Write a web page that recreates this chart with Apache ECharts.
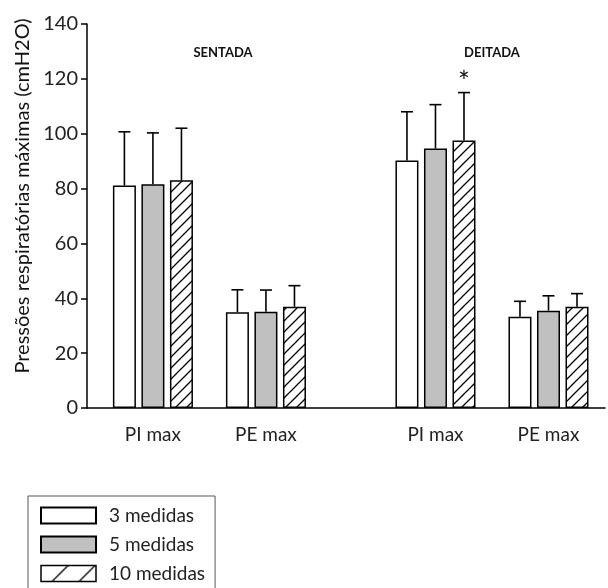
<!DOCTYPE html>
<html>
<head>
<meta charset="utf-8">
<script src="https://cdn.jsdelivr.net/npm/echarts@6/dist/echarts.min.js"></script>
<style>
  html, body { margin: 0; padding: 0; background: #fff; }
  #chart { width: 608px; height: 588px; }
</style>
</head>
<body>
<div id="chart"></div>
<script>
// data
var groupLabels = ['PI max', 'PE max', 'PI max', 'PE max'];
var seriesNames = ['3 medidas', '5 medidas', '10 medidas'];
var mean3 = [81.1, 34.9, 90.2, 33.3];
var sd3 = [19.6, 8.2, 17.8, 5.6];
var mean5 = [81.6, 35.1, 94.6, 35.5];
var sd5 = [18.7, 7.9, 16.0, 5.4];
var mean10 = [83.0, 36.9, 97.5, 36.9];
var sd10 = [19.0, 7.7, 17.5, 4.8];
var sig10 = [0, 0, 1, 0];   // * marca
var yTicks = [0, 20, 40, 60, 80, 100, 120, 140];

// layout: fine category axis so that the gap between postures is 1.5x the group spacing
var slotCount = 56;
var groupSlots = [7, 19, 37, 49];
var barW = 23, barGapPct = 0.24;
var fontFam = 'Lato, "DejaVu Sans", sans-serif';

var cats = [];
var labelMap = {};
for (var i = 0; i < slotCount; i++) cats.push('c' + i);
groupSlots.forEach(function (s, i) { labelMap['c' + s] = groupLabels[i]; });

function spread(vals) {
    var arr = [];
    for (var i = 0; i < slotCount; i++) arr.push(null);
    groupSlots.forEach(function (s, i) { arr[s] = vals[i]; });
    return arr;
}

function hatch(step) {
    var c = document.createElement('canvas');
    c.width = c.height = step;
    var g = c.getContext('2d');
    g.fillStyle = '#fff';
    g.fillRect(0, 0, step, step);
    g.strokeStyle = '#000';
    g.lineWidth = 1.3;
    g.beginPath();
    g.moveTo(-1, step + 1); g.lineTo(step + 1, -1);
    g.moveTo(-1, 1); g.lineTo(1, -1);
    g.moveTo(step - 1, step + 1); g.lineTo(step + 1, step - 1);
    g.stroke();
    return { image: c, repeat: 'repeat' };
}

var fills = ['#ffffff', '#c0c0c0', hatch(11)];
var means = [mean3, mean5, mean10];
var sds = [sd3, sd5, sd10];
var sigs = [[0, 0, 0, 0], [0, 0, 0, 0], sig10];

function errorSeries(k) {
    var offset = (k - 1) * barW * (1 + barGapPct);
    return {
        type: 'custom',
        name: 'err' + k,
        z: 3,
        data: groupSlots.map(function (s, i) { return [s, means[k][i], sds[k][i], sigs[k][i]]; }),
        renderItem: function (params, api) {
            var x = api.coord([api.value(0), 0])[0] + offset;
            var yBase = api.coord([api.value(0), api.value(1)])[1];
            var yTop = api.coord([api.value(0), api.value(1) + api.value(2)])[1];
            var st = { stroke: '#000', lineWidth: 1.6 };
            var kids = [
                { type: 'line', shape: { x1: x, y1: yBase, x2: x, y2: yTop }, style: st },
                { type: 'line', shape: { x1: x - 6, y1: yTop, x2: x + 6, y2: yTop }, style: st }
            ];
            if (api.value(3)) {
                kids.push({
                    type: 'text',
                    style: { x: x, y: yTop + 4, text: '*', fill: '#111', font: '28px ' + fontFam,
                             align: 'center', verticalAlign: 'bottom' }
                });
            }
            return { type: 'group', children: kids };
        }
    };
}

var chart = echarts.init(document.getElementById('chart'));
var series = [];
seriesNames.forEach(function (n, k) {
    series.push({
        name: n,
        type: 'bar',
        data: spread(means[k]),
        barWidth: barW,
        barGap: (barGapPct * 100) + '%',
        itemStyle: { color: fills[k], borderColor: '#000', borderWidth: 1.5 }
    });
});
seriesNames.forEach(function (n, k) { series.push(errorSeries(k)); });

var option = {
    animation: false,
    textStyle: { fontFamily: fontFam },
    grid: { left: 87, right: 0, top: 24, bottom: 180, containLabel: false },
    legend: {
        orient: 'vertical',
        left: 28,
        top: 496,
        height: 120,
        padding: [10, 10, 10, 12],
        itemWidth: 55,
        itemHeight: 16,
        itemGap: 10,
        borderColor: '#555',
        borderWidth: 1,
        borderRadius: 0,
        icon: 'rect',
        textStyle: { fontSize: 19, color: '#222', fontFamily: fontFam, padding: [0, 0, 0, 8] },
        data: [
            { name: '3 medidas' },
            { name: '5 medidas' },
            { name: '10 medidas', itemStyle: { color: hatch(27), borderColor: '#000', borderWidth: 1.5 } }
        ]
    },
    xAxis: {
        type: 'category',
        data: cats,
        boundaryGap: false,
        axisLine: { lineStyle: { color: '#000', width: 1.5 } },
        axisTick: { show: false },
        axisLabel: {
            interval: 0,
            margin: 17,
            fontSize: 19,
            color: '#222',
            formatter: function (v) { return labelMap[v] || ''; }
        },
        splitLine: { show: false }
    },
    yAxis: {
        type: 'value',
        min: yTicks[0],
        max: yTicks[yTicks.length - 1],
        interval: 20,
        axisLine: { show: true, lineStyle: { color: '#000', width: 1.5 } },
        axisTick: { show: true, length: 6, lineStyle: { color: '#000', width: 1.5 } },
        axisLabel: { margin: 9, fontSize: 20, color: '#222' },
        splitLine: { show: false }
    },
    graphic: [
        {
            type: 'text', x: 23, y: 196, rotation: Math.PI / 2,
            style: { text: 'Pressões respiratórias máximas (cmH2O)', fill: '#111',
                     font: '20px ' + fontFam, align: 'center', verticalAlign: 'middle' }
        },
        {
            type: 'text', x: 223, y: 53,
            style: { text: 'SENTADA', fill: '#111', font: 'bold 13px ' + fontFam,
                     align: 'center', verticalAlign: 'middle' }
        },
        {
            type: 'text', x: 492, y: 53,
            style: { text: 'DEITADA', fill: '#111', font: 'bold 13px ' + fontFam,
                     align: 'center', verticalAlign: 'middle' }
        }
    ],
    series: series
};
chart.setOption(option);
</script>
</body>
</html>
